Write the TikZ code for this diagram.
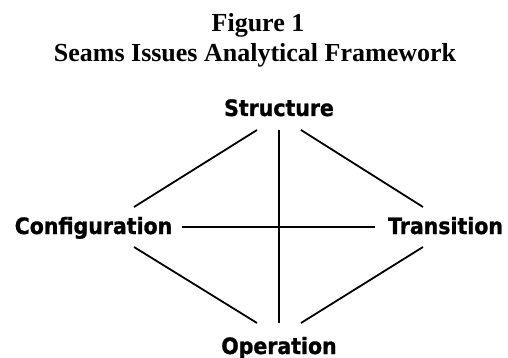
\documentclass[tikz,border=0pt]{standalone}
\usepackage{fontspec}
\setmainfont{Liberation Serif}
\newfontfamily\labelfont[FakeStretch=0.91, BoldFeatures={FakeBold=1.2}]{DejaVu Sans}
\usetikzlibrary{calc,positioning}
\tikzset
{
    titletext/.style = {anchor=base, inner sep=0pt, font=\fontsize{26}{30}\selectfont\bfseries},
    seamnode/.style  = {anchor=base, inner sep=0pt, font=\fontsize{22.5}{26}\selectfont\labelfont\bfseries},
    seamline/.style  = {draw=black, line width=1.8pt}
}
\begin{document}
\begin{tikzpicture}
	[x=1pt, y=-1pt]
	\useasboundingbox (0,0) rectangle (508,358);
	\node[titletext] (fig) at (258,32) {Figure 1};
	\node[titletext] (ttl) at (255,62) {Seams Issues Analytical Framework};
	% the four corners
	\node[seamnode] (s) at (279,116) {Structure};
	\node[seamnode] (c) at (93.5,234) {Configuration};
	\node[seamnode] (t) at (445.5,234) {Transition};
	\node[seamnode] (o) at (279,354) {Operation};
	% outer edges
	\draw[seamline] ($(s.base)+(-22,14)$) -- ($(c.base)+(40.5,-27)$);
	\draw[seamline] ($(s.base)+(22,14)$) -- ($(t.base)+(-22.5,-27)$);
	\draw[seamline] ($(c.base)+(40.5,13)$) -- ($(o.base)+(-22,-31)$);
	\draw[seamline] ($(t.base)+(-22.5,13)$) -- ($(o.base)+(22,-31)$);
	% the cross
	\draw[seamline] ($(s.base)+(0,14)$) -- ($(o.base)+(0,-31)$);
	\draw[seamline] ($(c.base)+(88.5,-7)$) -- ($(t.base)+(-70.5,-7)$);
\end{tikzpicture}
\end{document}
